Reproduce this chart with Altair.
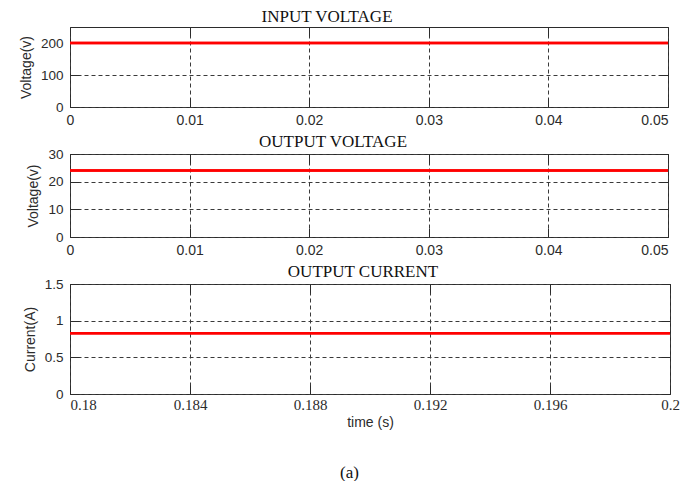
import altair as alt
import pandas as pd

# ---- data ----
t_in = [0.0, 0.05]
v_in = [200, 200]
t_out = [0.0, 0.05]
v_out = [24, 24]
t_cur = [0.18, 0.2]
i_out = [0.83, 0.83]

x_ticks_v = [0, 0.01, 0.02, 0.03, 0.04, 0.05]
y_ticks_in = [0, 100, 200]
y_ticks_out = [0, 10, 20, 30]
x_ticks_cur = [0.18, 0.184, 0.188, 0.192, 0.196, 0.2]
y_ticks_cur = [0, 0.5, 1, 1.5]

SANS = "Liberation Sans"
SERIF = "Liberation Serif"
INK = "#2b2b2b"
GRID = "#3a3a3a"
RED = "#ff0000"
TICK = {"expr": "-9"}


def panel(t, y, xdom, ydom, xticks, yticks, title, ytitle, h, w, xalign,
          xlabfont, xlabsize, xlabpad, title_dx, title_off, xtitle=None):
    df = pd.DataFrame({"t": t, "y": y})
    xs = alt.Scale(domain=xdom, nice=False, zero=False)
    ys = alt.Scale(domain=ydom, nice=False)
    base = alt.Chart(df)
    main = base.mark_line(color=RED, strokeWidth=2.5).encode(
        x=alt.X("t:Q", scale=xs, title=xtitle, axis=alt.Axis(
            values=xticks, format="~r", orient="bottom", grid=True,
            gridDash=[4, 3], gridColor=GRID, gridOpacity=1, gridWidth=1,
            tickSize=TICK, tickColor=INK, tickWidth=1, domain=False,
            labelFont=xlabfont, labelFontSize=xlabsize, labelColor=INK,
            labelAlign=xalign, labelPadding=xlabpad,
            titleFont=SANS, titleFontSize=14, titleFontWeight="normal",
            titleColor=INK, titlePadding=3)),
        y=alt.Y("y:Q", scale=ys, title=ytitle, axis=alt.Axis(
            values=yticks, format="~r", orient="left", grid=True,
            gridDash=[4, 3], gridColor=GRID, gridOpacity=1, gridWidth=1,
            tickSize=TICK, tickColor=INK, tickWidth=1, domain=False,
            labelFont=SANS, labelFontSize=13.5, labelColor=INK,
            labelPadding=16, titleFont=SANS, titleFontSize=14,
            titleFontWeight="normal", titleColor=INK, titlePadding=7)),
    )
    twin = base.mark_line(color=RED, strokeWidth=2.5).encode(
        x=alt.X("t:Q", scale=xs, title=None, axis=alt.Axis(
            values=xticks, orient="top", labels=False, grid=False,
            domain=False, tickSize=TICK, tickColor=INK, tickWidth=1)),
        y=alt.Y("y:Q", scale=ys, title=None, axis=alt.Axis(
            values=yticks, orient="right", labels=False, grid=False,
            domain=False, tickSize=TICK, tickColor=INK, tickWidth=1)),
    )
    return alt.layer(main, twin).resolve_axis(
        x="independent", y="independent"
    ).properties(
        width=w, height=h,
        title=alt.TitleParams(title, font=SERIF, fontSize=17,
                              fontWeight="normal", color="#111111",
                              dx=title_dx, offset=title_off),
    )


p1 = panel(t_in, v_in, [0, 0.05], [0, 250], x_ticks_v, y_ticks_in,
           "INPUT VOLTAGE", "Voltage(v)", 80, 598,
           {"expr": "datum.value >= 0.05 ? 'right' : 'center'"},
           SANS, 14, 15, -42, 1)
p2 = panel(t_out, v_out, [0, 0.05], [0, 30], x_ticks_v, y_ticks_out,
           "OUTPUT VOLTAGE", "Voltage(v)", 83, 598,
           {"expr": "datum.value >= 0.05 ? 'right' : 'center'"},
           SANS, 14, 15, -36, -4)
p3 = panel(t_cur, i_out, [0.18, 0.2], [0, 1.5], x_ticks_cur, y_ticks_cur,
           "OUTPUT CURRENT", "Current(A)", 110, 600,
           {"expr": "datum.value <= 0.18 ? 'left' : 'center'"},
           SERIF, 15, 12, -7, -4, xtitle="time (s)")

chart = alt.vconcat(p1, p2, p3, spacing=47, bounds="flush").properties(
    title=alt.TitleParams("(a)", orient="bottom", anchor="middle",
                          font=SERIF, fontSize=17, fontWeight="normal",
                          color="#111111", offset=35),
    padding={"left": 10, "top": -1, "right": 5, "bottom": 0},
).configure_view(stroke=INK, strokeWidth=1)

chart.save("out.html", embed_options={"renderer": "svg", "actions": False})
